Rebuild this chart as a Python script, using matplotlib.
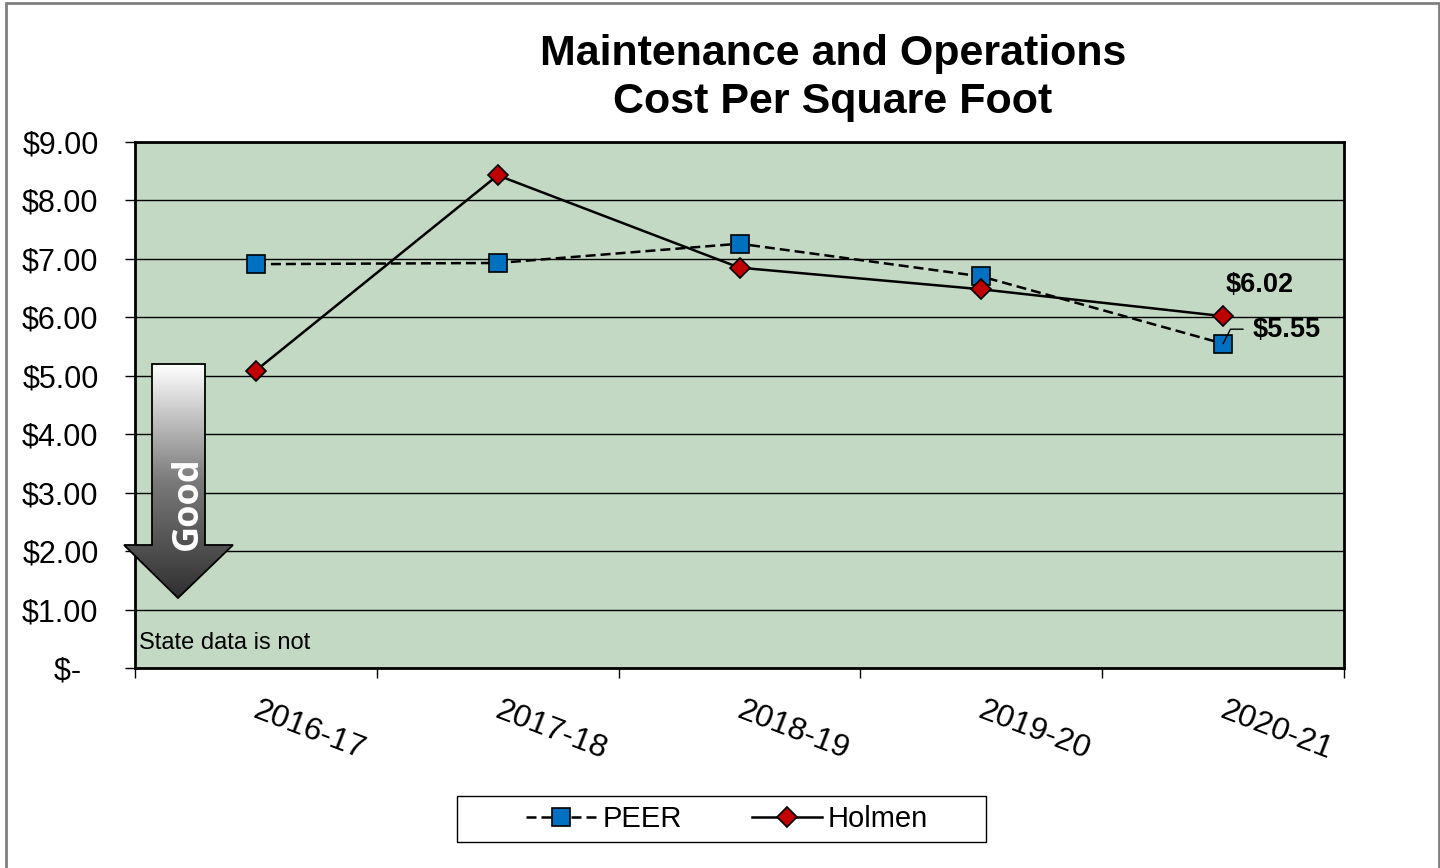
import matplotlib
matplotlib.use('Agg')
import matplotlib.pyplot as plt
import numpy as np
from matplotlib.patches import Polygon, Rectangle
from matplotlib.colors import LinearSegmentedColormap

# ---- data ----
categories = ['2016-17', '2017-18', '2018-19', '2019-20', '2020-21']
peer = [6.91, 6.93, 7.26, 6.70, 5.55]
holmen = [5.09, 8.43, 6.85, 6.48, 6.02]
y_ticks = [0, 1, 2, 3, 4, 5, 6, 7, 8, 9]
y_tick_labels = ['$-  ', '$1.00', '$2.00', '$3.00', '$4.00', '$5.00',
                 '$6.00', '$7.00', '$8.00', '$9.00']
title = 'Maintenance and Operations\nCost Per Square Foot'

plt.rcParams['font.family'] = ['Liberation Sans', 'DejaVu Sans']

W, H = 1440, 868
fig = plt.figure(figsize=(W / 100, H / 100), dpi=100)

# figure border
fig.patches.append(Rectangle((5.5 / W, -0.02), (1438.5 - 5.5) / W, 1 - 3 / H + 0.02,
                             transform=fig.transFigure, fill=False,
                             edgecolor='#808080', lw=2))

ax = fig.add_axes([135 / W, 1 - 668 / H, (1344 - 135) / W, (668 - 142) / H])
ax.set_facecolor('#C3D9C3')

x = np.arange(len(categories))
ax.plot(x, peer, ls=(0, (4, 2)), color='black', lw=1.8, marker='s', ms=13.5,
        mfc='#0070C0', mec='black', mew=1.2, label='PEER', zorder=3)
ax.plot(x, holmen, ls='-', color='black', lw=1.8, marker='D', ms=10.5,
        mfc='#C00000', mec='black', mew=1.2, label='Holmen', zorder=4)

ax.set_xlim(-0.5, len(categories) - 0.5)
ax.set_ylim(0, 9)
ax.set_yticks(y_ticks)
ax.set_yticklabels(y_tick_labels, fontsize=22)
ax.tick_params(axis='y', length=7.2, width=1, direction='out', pad=19)
ax.yaxis.grid(True, color='black', lw=1)
ax.set_axisbelow(True)

ax.set_xticks(np.arange(-0.5, len(categories), 1))
ax.set_xticklabels([])
ax.tick_params(axis='x', which='major', length=7.2, width=1, direction='out')
ax.set_xticks(x + 0.015, minor=True)
ax.set_xticklabels(categories, minor=True, rotation=-21, ha='left', va='top',
                   rotation_mode='anchor', fontsize=23)
ax.tick_params(axis='x', which='minor', length=0, pad=20)

for s in ax.spines.values():
    s.set_linewidth(2)
    s.set_color('black')

# data labels
ax.annotate('$6.02', xy=(4, holmen[4]), xytext=(26.6, 22.5), textcoords='offset points',
            ha='center', va='center', fontsize=19.5, fontweight='bold', zorder=6)
ax.annotate('$5.55', xy=(4, peer[4]), xytext=(46, 9.5), textcoords='offset points',
            ha='center', va='center', fontsize=19.5, fontweight='bold', zorder=6)
ax.annotate('', xy=(4, peer[4]), xytext=(14.4, 10.4), textcoords='offset points',
            arrowprops=dict(arrowstyle='-', color='black', lw=1, shrinkA=0, shrinkB=0,
                            connectionstyle='angle,angleA=0,angleB=63,rad=0'),
            zorder=6)

ax.text((139 - 135) / (1344 - 135), (668 - 643) / (668 - 142), 'State data is not',
        transform=ax.transAxes, ha='left', va='center', fontsize=17)

# title
fig.text(833 / W, 1 - 78 / H, title, ha='center', va='center', fontsize=31,
         fontweight='bold', linespacing=1.25)

# legend
fig.patches.append(Rectangle((457 / W, 1 - 842 / H), (986 - 457) / W, (842 - 796) / H,
                             transform=fig.transFigure, facecolor='white',
                             edgecolor='black', lw=1, zorder=5))
leg = fig.legend(loc='center', bbox_to_anchor=(727 / W, 1 - 819 / H), ncol=2,
                 fontsize=21, frameon=False, handlelength=2.4, handletextpad=0.2,
                 columnspacing=2.4, borderpad=0.3)
leg.set_zorder(6)

# "Good" arrow
oax = fig.add_axes([110 / W, 1 - 610 / H, 140 / W, 260 / H])
oax.set_xlim(110, 250)
oax.set_ylim(610, 350)
oax.axis('off')
pts = [(152, 364), (205, 364), (205, 545), (233, 545), (178, 598), (124, 545), (152, 545)]
clip = Polygon(pts, closed=True, facecolor='none', edgecolor='none')
oax.add_patch(clip)
cmap = LinearSegmentedColormap.from_list('g', ['#FFFFFF', '#7A7A7A', '#303030'])
grad = np.linspace(0, 1, 256).reshape(-1, 1)
im = oax.imshow(grad, cmap=cmap, extent=(120, 240, 598, 364), origin='upper',
                aspect='auto', zorder=1)
im.set_clip_path(clip)
oax.add_patch(Polygon(pts, closed=True, facecolor='none', edgecolor='black', lw=1.3, zorder=2))
oax.text(188, 503, 'Good', rotation=90, color='white', fontweight='bold', fontsize=26,
         family=['Open Sans', 'DejaVu Sans'], ha='center', va='center', zorder=3)

fig.savefig('out.png', dpi=100)
